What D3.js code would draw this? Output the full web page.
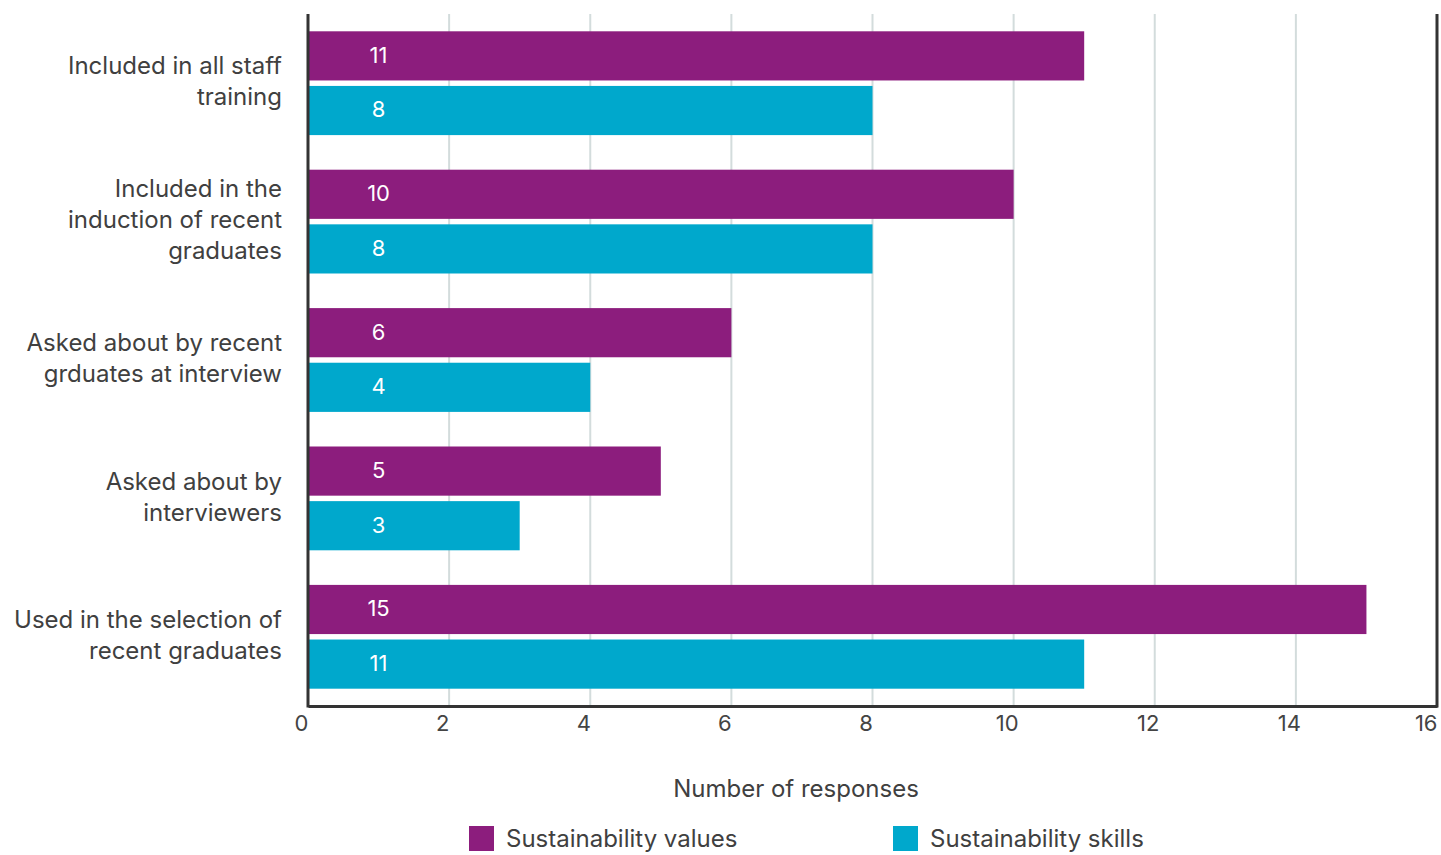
<!DOCTYPE html>
<html>
<head>
<meta charset="utf-8">
<script src="https://cdn.jsdelivr.net/npm/d3@7"></script>
<style>
  html, body { margin: 0; padding: 0; background: #ffffff; }
  svg { display: block; }
  text { font-family: Inter, "Noto Sans", sans-serif; }
</style>
</head>
<body>
<svg id="chart" width="1441" height="855"></svg>
<script>
// Survey categories (top to bottom), each label split into display lines
const categories = [
  "Included in all staff training",
  "Included in the induction of recent graduates",
  "Asked about by recent grduates at interview",
  "Asked about by interviewers",
  "Used in the selection of recent graduates"
];
const categoryLines = [
  ["Included in all staff", "training"],
  ["Included in the", "induction of recent", "graduates"],
  ["Asked about by recent", "grduates at interview"],
  ["Asked about by", "interviewers"],
  ["Used in the selection of", "recent graduates"]
];
const seriesNames = ["Sustainability values", "Sustainability skills"];
const valuesSeries = [11, 10, 6, 5, 15];
const skillsSeries = [8, 8, 4, 3, 11];
const xTicks = [0, 2, 4, 6, 8, 10, 12, 14, 16];
const axisTitle = "Number of responses";
const colors = ["#8c1d7d", "#00a8cc"];

const rows = categories.map((c, i) => ({
  category: c,
  lines: categoryLines[i],
  values: [valuesSeries[i], skillsSeries[i]]
}));

const margin = { left: 308, right: 4, top: 14, bottom: 149 };
const width = 1441, height = 855;
const svg = d3.select("#chart");

const x = d3.scaleLinear().domain([0, 16]).range([margin.left, width - margin.right]);
const y = d3.scaleBand().domain(categories)
  .range([margin.top, height - margin.bottom])
  .paddingInner(0.25).paddingOuter(0.125);
const ySub = d3.scaleBand().domain(seriesNames)
  .range([0, y.bandwidth()]).paddingInner(0.1);

const plotTop = margin.top, plotBottom = height - margin.bottom;
const labelSize = 24;
const textColor = "#404040";

// Vertical gridlines
svg.append("g")
  .selectAll("line")
  .data(xTicks.filter(t => t > 0 && t < 16))
  .join("line")
  .attr("x1", d => x(d)).attr("x2", d => x(d))
  .attr("y1", plotTop).attr("y2", plotBottom)
  .attr("stroke", "#d3dcdc").attr("stroke-width", 2);

// Bars
const groups = svg.append("g")
  .selectAll("g")
  .data(rows)
  .join("g")
  .attr("transform", d => `translate(0,${y(d.category)})`);

groups.selectAll("rect")
  .data(d => d.values.map((v, i) => ({ v, s: seriesNames[i], i })))
  .join("rect")
  .attr("x", x(0))
  .attr("y", d => ySub(d.s))
  .attr("width", d => x(d.v) - x(0))
  .attr("height", ySub.bandwidth())
  .attr("fill", d => colors[d.i]);

// Value labels inside bars
groups.selectAll("text.val")
  .data(d => d.values.map((v, i) => ({ v, s: seriesNames[i] })))
  .join("text")
  .attr("class", "val")
  .attr("x", x(1))
  .attr("y", d => ySub(d.s) + ySub.bandwidth() / 2 - 1)
  .attr("dy", "0.36em")
  .attr("text-anchor", "middle")
  .attr("fill", "#ffffff")
  .attr("font-size", 22)
  .text(d => d.v);

// Category labels
const lineH = 31;
svg.append("g")
  .selectAll("text")
  .data(rows)
  .join("text")
  .attr("text-anchor", "end")
  .attr("fill", textColor)
  .attr("font-size", labelSize)
  .each(function (d) {
    const cy = y(d.category) + y.bandwidth() / 2 - 2;
    const n = d.lines.length;
    d3.select(this).selectAll("tspan")
      .data(d.lines)
      .join("tspan")
      .attr("x", 282)
      .attr("y", (l, i) => cy + (i - (n - 1) / 2) * lineH)
      .attr("dy", "0.36em")
      .text(l => l);
  });

// Bottom axis
const xAxis = d3.axisBottom(x).tickValues(xTicks).tickSize(0).tickPadding(9);
const axisG = svg.append("g")
  .attr("transform", `translate(0,${plotBottom})`)
  .call(xAxis);
axisG.select(".domain").attr("stroke", "#333").attr("stroke-width", 3);
axisG.selectAll(".tick text")
  .attr("font-size", 22)
  .attr("fill", "#444")
  .attr("font-family", "Inter, 'Noto Sans', sans-serif")
  .attr("dx", -7)
  .filter(d => d === 16)
  .attr("dx", 0)
  .attr("text-anchor", "end");

// Left and right frame lines
svg.append("line")
  .attr("x1", x(0)).attr("x2", x(0))
  .attr("y1", plotTop).attr("y2", plotBottom + 1.5)
  .attr("stroke", "#333").attr("stroke-width", 3);
svg.append("line")
  .attr("x1", x(16)).attr("x2", x(16))
  .attr("y1", plotTop).attr("y2", plotBottom + 1.5)
  .attr("stroke", "#333").attr("stroke-width", 3);

// Axis title
svg.append("text")
  .attr("x", 796).attr("y", 788)
  .attr("dy", "0.36em")
  .attr("text-anchor", "middle")
  .attr("fill", textColor)
  .attr("font-size", labelSize)
  .text(axisTitle);

// Legend
const legendX = [469, 893];
const legend = svg.append("g")
  .selectAll("g")
  .data(seriesNames)
  .join("g")
  .attr("transform", (d, i) => `translate(${legendX[i]},826)`);
legend.append("rect")
  .attr("width", 25).attr("height", 25)
  .attr("fill", (d, i) => colors[i]);
legend.append("text")
  .attr("x", 37).attr("y", 12.5)
  .attr("dy", "0.36em")
  .attr("fill", textColor)
  .attr("font-size", labelSize)
  .text(d => d);
</script>
</body>
</html>
